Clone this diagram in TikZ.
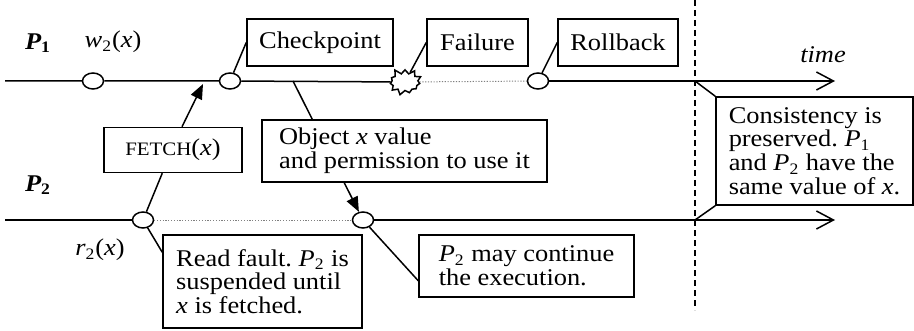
\documentclass[tikz,border=0pt]{standalone}
\usepackage{fontspec}
\setmainfont[FakeStretch=1.1]{Liberation Serif}
\usetikzlibrary{arrows.meta, calc, shapes.geometric, shapes.symbols}
\frenchspacing
\setlength{\lineskiplimit}{-10pt}

\begin{document}
\begin{tikzpicture}[x=0.5pt, y=-0.5pt, line width=0.75pt,
	every node/.style={font=\fontsize{12}{11.8}\selectfont},
	proc/.style={font=\fontsize{12}{11.8}\selectfont\bfseries\itshape},
	evt/.style={draw, ellipse, fill=white, inner sep=0pt, minimum width=10.5pt, minimum height=8pt},
	note/.style={draw, rectangle, inner sep=2pt, align=left},
	wait/.style={gray, line width=0.5pt, dash pattern=on 0.6pt off 0.8pt},
	timeline/.style={-{Straight Barb[length=8.5pt,width=9pt]}},
	msg/.style={-{Triangle[length=7.5pt,width=6pt]}}]
	\useasboundingbox (0,0) rectangle (914,331);

	% process labels
	\node[proc] (p1) at (38,43) {P\textsubscript{\upshape 1}};
	\node[proc] (p2) at (38,185) {P\textsubscript{\upshape 2}};
	\node (wlabel) at (113,42) {\textit{w}\textsubscript{2}(\textit{x})};
	\node (rlabel) at (100,250) {\textit{r}\textsubscript{2}(\textit{x})};
	\node (time) at (823,55) {\textit{time}};

	% events on the time lines
	\node[evt] (wx) at (93,81) {};
	\node[evt] (chkpt) at (230,81) {};
	\node[draw, starburst, fill=white, inner sep=0pt, minimum width=19pt, minimum height=14.5pt,
		starburst points=11, starburst point height=3pt, random starburst=5] (crash) at (405,82) {};
	\node[evt] (back) at (538,81) {};
	\node[evt] (rx) at (143,220) {};
	\node[evt] (resume) at (363,220) {};

	\coordinate (p1start) at (5,81);
	\coordinate (p1end) at (835,81);
	\coordinate (p2start) at (5,220);
	\coordinate (p2end) at (835,220);
	\coordinate (sendpt) at (293,81);
	\coordinate (fetchtip) at (203,84);
	\coordinate (cuttop) at (695,0);
	\coordinate (cutbot) at (695,310);
	\coordinate (cut1) at (695,81);
	\coordinate (cut2) at (695,220);

	% notes
	\node[note, minimum width=73pt, minimum height=23.5pt] (chk) at (320,42.5) {Checkpoint};
	\node[note, minimum width=50.5pt, minimum height=23.5pt] (fail) at (477.5,42.5) {Failure};
	\node[note, minimum width=60pt, minimum height=23.5pt] (roll) at (618,42.5) {Rollback};
	\node[note, minimum width=69pt, minimum height=22.5pt] (fetch) at (173,150) {{\fontsize{9.5}{12}\selectfont FETCH}(\textit{x})};
	\node[note, minimum width=142.5pt, minimum height=31pt] (obj) at (404.5,151) {Object \textit{x} value\\and permission to use it};
	\node[note, minimum width=99.5pt, minimum height=46.5pt] (read) at (262.5,281.5) {Read fault. \textit{P}\textsubscript{2} is\\suspended until\\\textit{x} is fetched.};
	\node[note, minimum width=107.5pt, minimum height=31pt] (cont) at (526.5,266) {\textit{P}\textsubscript{2} may continue\\the execution.};
	\node[note, minimum width=98.5pt, minimum height=54pt] (cons) at (814.5,151) {Consistency is\\preserved. \textit{P}\textsubscript{1}\\and \textit{P}\textsubscript{2} have the\\same value of \textit{x}.};

	% time lines
	\draw (p1start) -- (wx) -- (chkpt) -- (crash);
	\draw[wait] (crash) -- (back);
	\draw[timeline] (back) -- (p1end);
	\draw (p2start) -- (rx);
	\draw[wait] (rx) -- (resume);
	\draw[timeline] (resume) -- (p2end);

	% connectors
	\draw (chkpt) -- (chk.west);
	\draw (crash) -- (fail.west);
	\draw (back) -- (roll.west);
	\draw (sendpt) -- ($(obj.north west)+(51,0)$);
	\draw[msg] ($(fetch.north)+(9,0)$) -- (fetchtip);
	\draw (rx) -- ($(fetch.south west)+(59,0)$);
	\draw (rx) -- ($(read.north west)+(0,18)$);
	\draw[msg] ($(obj.south west)+(83,0)$) -- (resume);
	\draw (resume) -- ($(cont.south west)+(0,-17)$);
	\draw[line width=0.6pt, dash pattern=on 3pt off 2pt] (cuttop) -- (cutbot);
	\draw (cut1) -- (cons.north west);
	\draw (cut2) -- (cons.south west);
\end{tikzpicture}
\end{document}
